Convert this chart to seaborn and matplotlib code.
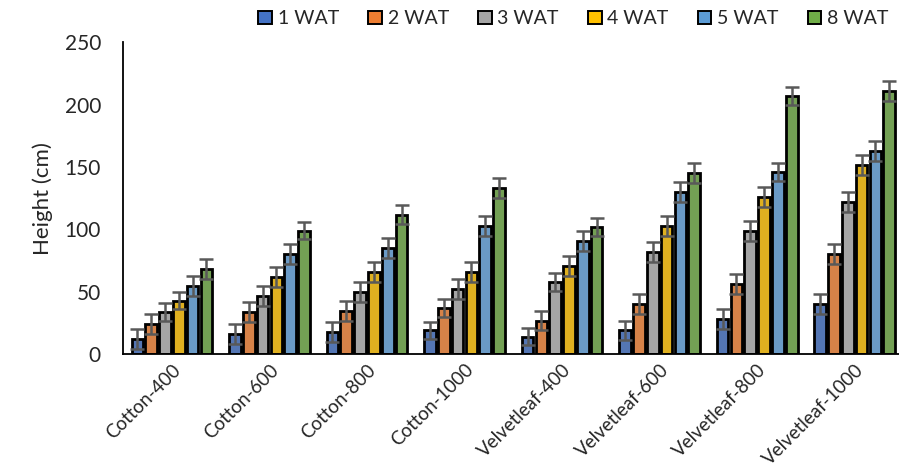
import pandas as pd
import matplotlib
matplotlib.use("Agg")
import matplotlib.pyplot as plt
import seaborn as sns
from matplotlib.patches import Patch

sns.set_theme(style="white")
plt.rcParams["font.family"] = ["Lato", "DejaVu Sans"]

groups = ["Cotton-400", "Cotton-600", "Cotton-800", "Cotton-1000",
          "Velvetleaf-400", "Velvetleaf-600", "Velvetleaf-800", "Velvetleaf-1000"]
weeks = ["1 WAT", "2 WAT", "3 WAT", "4 WAT", "5 WAT", "8 WAT"]
colors = ["#4472C4", "#ED7D31", "#A5A5A5", "#FFC000", "#5B9BD5", "#70AD47"]

# heights (cm) per week, one value per group
wat1 = [12, 16, 18, 19, 14, 19, 28, 40]
wat2 = [24, 34, 35, 37, 27, 40, 56, 80]
wat3 = [34, 47, 50, 52, 58, 82, 99, 122]
wat4 = [43, 62, 66, 66, 71, 103, 126, 152]
wat5 = [55, 80, 85, 103, 91, 130, 146, 163]
wat8 = [68, 99, 112, 133, 102, 145, 207, 211]

err1 = [8, 8, 8, 7, 7, 8, 8, 8]
err2 = [8, 8, 8, 7, 8, 8, 8, 8]
err3 = [7, 8, 8, 8, 7, 8, 8, 8]
err4 = [7, 8, 8, 8, 8, 8, 8, 8]
err5 = [8, 8, 8, 8, 8, 8, 7, 8]
err8 = [8, 7, 8, 8, 7, 8, 7, 8]

vals = [wat1, wat2, wat3, wat4, wat5, wat8]
errs = [err1, err2, err3, err4, err5, err8]

rows = []
for w, v, e in zip(weeks, vals, errs):
    for g, h, s in zip(groups, v, e):
        rows.append({"group": g, "week": w, "height": h, "err": s})
df = pd.DataFrame(rows)

fig = plt.figure(figsize=(8.99, 4.71), dpi=100)
ax = fig.add_axes([0.137, 0.248, 0.868, 0.662])

sns.barplot(data=df, x="group", y="height", hue="week", order=groups,
            hue_order=weeks, palette=colors, width=0.85, gap=0.16,
            edgecolor="black", linewidth=2.0, errorbar=None, ax=ax,
            legend=False)

# error bars on top of each bar
for i, w in enumerate(weeks):
    cont = ax.containers[i]
    xs = [p.get_x() + p.get_width() / 2 for p in cont.patches]
    hs = [p.get_height() for p in cont.patches]
    ax.errorbar(xs, hs, yerr=errs[i], fmt="none", ecolor="#595959",
                elinewidth=1.8, capsize=5, capthick=1.8, zorder=5)

ax.set_xlim(-0.5, 7.5)
ax.set_ylim(0, 250)
ax.set_yticks([0, 50, 100, 150, 200, 250])
ax.tick_params(axis="y", labelsize=15, length=0, pad=16)
ax.tick_params(axis="x", length=0, pad=5)
ax.set_xticks(range(len(groups)))
ax.set_xticklabels(groups, rotation=45, ha="right", rotation_mode="anchor",
                   fontsize=13.5)
ax.set_xlabel("")
ax.set_ylabel("Height (cm)", fontsize=16, labelpad=8)
for s in ["top", "right"]:
    ax.spines[s].set_visible(False)
for s in ["left", "bottom"]:
    ax.spines[s].set_color("black")
    ax.spines[s].set_linewidth(1.3)

handles = [Patch(facecolor=c, edgecolor="black", linewidth=1.4) for c in colors]
fig.legend(handles, weeks, loc="upper right", bbox_to_anchor=(1.008, 1.015),
           ncol=6, frameon=False, fontsize=14, handlelength=0.7,
           handleheight=0.7, handletextpad=0.3, columnspacing=1.5)

fig.savefig("out.png", dpi=100)
